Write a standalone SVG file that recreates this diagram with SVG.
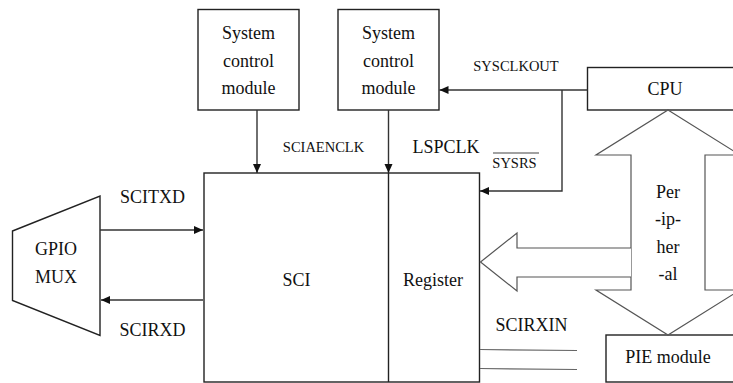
<svg xmlns="http://www.w3.org/2000/svg" width="733" height="383" viewBox="0 0 733 383">
  <style>
    .box { fill: #fff; stroke: #222; stroke-width: 1.4; }
    .wire { fill: none; stroke: #333; stroke-width: 1.4; }
    .bus { fill: #fff; stroke: #555; stroke-width: 1.2; }
    .thin { fill: none; stroke: #666; stroke-width: 1.2; }
    text { font-family: "Liberation Serif", "Times New Roman", serif; fill: #111; text-anchor: middle; }
    .big { font-size: 18px; }
    .sig { font-size: 14.5px; }
  </style>
  <defs>
    <marker id="arrow" markerUnits="userSpaceOnUse" markerWidth="10" markerHeight="10" refX="9" refY="4" orient="auto">
      <path d="M0,0 L9,4 L0,8 z" fill="#111"/>
    </marker>
  </defs>

  <rect width="733" height="383" fill="#fff"/>

  <!-- module boxes -->
  <g id="sysctl1">
    <rect class="box" x="198" y="9.5" width="101" height="100.5"/>
    <text class="big" x="248.5" y="39">System</text>
    <text class="big" x="248.5" y="67">control</text>
    <text class="big" x="248.5" y="94">module</text>
  </g>
  <g id="sysctl2">
    <rect class="box" x="338" y="9.5" width="101" height="100.5"/>
    <text class="big" x="388.5" y="39">System</text>
    <text class="big" x="388.5" y="67">control</text>
    <text class="big" x="388.5" y="94">module</text>
  </g>
  <g id="cpu">
    <rect class="box" x="587.5" y="67.5" width="160" height="42.5"/>
    <text class="big" x="665" y="95">CPU</text>
  </g>
  <g id="pie">
    <rect class="box" x="606" y="335" width="140" height="47"/>
    <text class="big" x="668" y="363">PIE module</text>
  </g>
  <g id="sci">
    <rect class="box" x="204" y="173" width="275.5" height="209"/>
    <line class="box" x1="388.5" y1="173" x2="388.5" y2="382"/>
    <text class="big" x="296.5" y="286">SCI</text>
    <text class="big" x="433" y="286">Register</text>
  </g>
  <g id="gpio">
    <polygon class="box" points="12.5,231 100,196 100,335.5 12.5,300.5" stroke-width="1.2"/>
    <text class="big" x="56" y="255">GPIO</text>
    <text class="big" x="56" y="283">MUX</text>
  </g>
  <g id="peripheral-bus">
    <polygon class="bus" points="668,110 740,155 705,155 705,290 740,290 668,335 596,290 631,290 631,155 596,155"/>
    <polyline class="bus" points="631,248 517,248 517,233 480.5,262 517,291 517,277 631,277"/>
    <text class="big" x="668" y="197.5">Per</text>
    <text class="big" x="668" y="225">-ip-</text>
    <text class="big" x="668" y="252.5">her</text>
    <text class="big" x="668" y="280">-al</text>
  </g>

  <!-- connectors -->
  <g id="connectors">
    <line class="wire" x1="257" y1="110" x2="257" y2="173" marker-end="url(#arrow)"/>
    <line class="wire" x1="388.5" y1="110" x2="388.5" y2="173" marker-end="url(#arrow)"/>
    <line class="wire" x1="587.5" y1="90" x2="439.5" y2="90" marker-end="url(#arrow)"/>
    <polyline class="wire" points="562,90 562,191 480,191" marker-end="url(#arrow)"/>
    <line class="wire" x1="100" y1="230" x2="203" y2="230" marker-end="url(#arrow)"/>
    <line class="wire" x1="203" y1="300" x2="101" y2="300" marker-end="url(#arrow)"/>
    <line class="thin" x1="480" y1="349.5" x2="577" y2="350.5"/>
    <line class="thin" x1="480" y1="368.5" x2="577" y2="369.5"/>
  </g>

  <!-- signal labels -->
  <g id="labels">
    <text class="sig" x="323.5" y="152">SCIAENCLK</text>
    <text class="big" x="446" y="153">LSPCLK</text>
    <text class="sig" x="514.5" y="168" font-size="14">SYSRS</text>
    <line x1="493" y1="153" x2="539" y2="153" stroke="#444" stroke-width="1.2"/>
    <text class="sig" x="516" y="70.5" font-size="14">SYSCLKOUT</text>
    <text class="big" x="152.5" y="203">SCITXD</text>
    <text class="big" x="152.5" y="336">SCIRXD</text>
    <text class="big" x="531.5" y="330.5">SCIRXIN</text>
  </g>
</svg>
